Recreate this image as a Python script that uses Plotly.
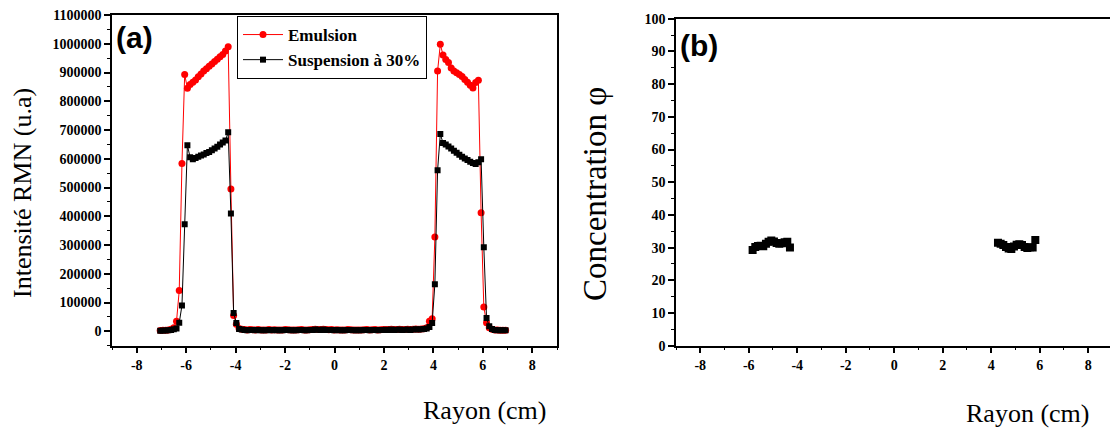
import plotly.graph_objects as go

# ---------------- data ----------------
rayon = [
    -7.05, -6.94, -6.83, -6.72, -6.61, -6.50, -6.39, -6.28, -6.17, -6.06,
    -5.95, -5.84, -5.73, -5.62, -5.51, -5.40, -5.29, -5.18, -5.07, -4.96,
    -4.85, -4.74, -4.63, -4.52, -4.41, -4.30, -4.19, -4.08, -3.97, -3.86,
    -3.75, -3.64, -3.53, -3.42, -3.31, -3.20, -3.09, -2.98, -2.87, -2.76,
    -2.65, -2.54, -2.43, -2.32, -2.21, -2.10, -1.99, -1.88, -1.77, -1.66,
    -1.55, -1.44, -1.33, -1.22, -1.11, -1.00, -0.89, -0.78, -0.67, -0.56,
    -0.45, -0.34, -0.23, -0.12, -0.01, 0.10, 0.21, 0.32, 0.43, 0.54,
    0.65, 0.76, 0.87, 0.98, 1.09, 1.20, 1.31, 1.42, 1.53, 1.64,
    1.75, 1.86, 1.97, 2.08, 2.19, 2.30, 2.41, 2.52, 2.63, 2.74,
    2.85, 2.96, 3.07, 3.18, 3.29, 3.40, 3.51, 3.62, 3.73, 3.84,
    3.95, 4.06, 4.17, 4.28, 4.39, 4.50, 4.61, 4.72, 4.83, 4.94,
    5.05, 5.16, 5.27, 5.38, 5.49, 5.60, 5.71, 5.82, 5.93, 6.04,
    6.15, 6.26, 6.37, 6.48, 6.59, 6.70, 6.81, 6.92,
]

emulsion = [
    3000, 3500, 4000, 5000, 7000, 12000, 35000, 142000, 584000, 893000,
    845000, 858000, 866000, 874000, 885000, 895000, 905000, 913000, 922000, 930000,
    938000, 946000, 955000, 963000, 975000, 990000, 495000, 55000, 25000, 10000,
    7000, 6000, 5000, 6000, 5500, 5000, 6000, 5000, 4500, 5000,
    6000, 5000, 5500, 4500, 5000, 5000, 6000, 5500, 5000, 4500,
    5000, 5500, 6000, 5000, 5000, 5500, 6000, 7000, 6500, 6000,
    7000, 6000, 5500, 6000, 5000, 5500, 5000, 4500, 5000, 6000,
    5500, 5000, 5000, 4500, 5000, 5500, 6000, 5000, 5500, 6000,
    5000, 5500, 6000, 6500, 6000, 7000, 6000, 6500, 7000, 6000,
    6500, 7000, 6000, 7000, 8000, 7000, 8000, 9000, 12000, 35000,
    44000, 328000, 905000, 998000, 961000, 945000, 935000, 916000, 905000, 899000,
    893000, 886000, 876000, 866000, 856000, 846000, 865000, 873000, 412000, 85000,
    30000, 12000, 7000, 5000, 5000, 4000, 4000, 4000,
]

suspension = [
    2000, 2500, 3000, 3500, 5000, 7000, 10000, 30000, 90000, 372000,
    647000, 605000, 598000, 603000, 607000, 611000, 615000, 620000, 624000, 630000,
    636000, 642000, 650000, 657000, 664000, 692000, 410000, 64000, 29000, 8000,
    6000, 5000, 4000, 5000, 4500, 4000, 5000, 4000, 3500, 4000,
    5000, 4000, 4500, 3500, 4000, 4000, 5000, 4500, 4000, 3500,
    4000, 4500, 5000, 4000, 4000, 4500, 5000, 6000, 5500, 5000,
    6000, 5000, 4500, 5000, 4000, 4500, 4000, 3500, 4000, 5000,
    4500, 4000, 4000, 3500, 4000, 4500, 5000, 4000, 4500, 5000,
    4000, 4500, 5000, 5500, 5000, 6000, 5000, 5500, 6000, 5000,
    5500, 6000, 5000, 6000, 7000, 6000, 7000, 8000, 10000, 15000,
    29000, 164000, 560000, 686000, 655000, 650000, 643000, 636000, 628000, 621000,
    614000, 607000, 601000, 596000, 590000, 585000, 582000, 588000, 598000, 292000,
    46000, 18000, 8000, 5000, 4000, 4000, 4000, 4000,
]

phi_left_x = [-5.84, -5.73, -5.62, -5.51, -5.40, -5.29, -5.18, -5.07,
              -4.96, -4.85, -4.74, -4.63, -4.52, -4.41, -4.30]
phi_left = [29.3, 30.2, 30.5, 30.6, 30.4, 31.2, 31.8, 32.2,
            31.9, 31.4, 31.2, 31.3, 31.6, 31.8, 30.0]
phi_right_x = [4.28, 4.39, 4.50, 4.61, 4.72, 4.83, 4.94, 5.05,
               5.16, 5.27, 5.38, 5.49, 5.60, 5.71, 5.82]
phi_right = [31.5, 31.2, 30.8, 30.2, 29.7, 29.6, 30.3, 30.9,
             31.0, 30.8, 30.2, 29.9, 30.1, 30.0, 32.3]

x_ticks = [-8, -6, -4, -2, 0, 2, 4, 6, 8]
x_ticktext = ["-8", "-6", "-4", "-2", "0", "2", "4", "6", "8"]
ya_ticks = [0, 100000, 200000, 300000, 400000, 500000, 600000,
            700000, 800000, 900000, 1000000, 1100000]
ya_ticktext = [str(v) for v in ya_ticks]
yb_ticks = [0, 10, 20, 30, 40, 50, 60, 70, 80, 90, 100]
yb_ticktext = [str(v) for v in yb_ticks]

# ---------------- figure ----------------
W, H = 1110, 428
fig = go.Figure()

fig.add_trace(go.Scatter(
    x=rayon, y=emulsion, mode="lines+markers", name="Emulsion",
    line=dict(color="#ff0000", width=1),
    marker=dict(symbol="circle", size=7, color="#ff0000"),
    xaxis="x", yaxis="y"))
fig.add_trace(go.Scatter(
    x=rayon, y=suspension, mode="lines+markers", name="Suspension à 30%",
    line=dict(color="black", width=1),
    marker=dict(symbol="square", size=6, color="black"),
    xaxis="x", yaxis="y"))
for xs, ys in [(phi_left_x, phi_left), (phi_right_x, phi_right)]:
    fig.add_trace(go.Scatter(
        x=xs, y=ys, mode="lines+markers", showlegend=False,
        line=dict(color="black", width=1),
        marker=dict(symbol="square", size=8, color="black"),
        xaxis="x2", yaxis="y2"))

tickfont = dict(family="Liberation Serif", size=14, color="black", weight="bold")
axis_common = dict(showline=True, linecolor="black", linewidth=1.5,
                   ticks="outside", ticklen=6, tickwidth=1.5, tickcolor="black",
                   showgrid=False, zeroline=False, tickfont=tickfont,
                   automargin=False)

def py(p):
    return 1 - p / H

fig.update_layout(
    template="none",
    width=W, height=H,
    margin=dict(l=0, r=0, t=0, b=0, pad=0, autoexpand=False),
    paper_bgcolor="white", plot_bgcolor="white",
    xaxis=dict(domain=[112 / W, 557 / W], range=[-9, 9], anchor="y",
               tickmode="array", tickvals=x_ticks, ticktext=x_ticktext,
               mirror=True,
               minor=dict(dtick=1, tick0=0, ticks="outside", ticklen=3,
                          tickwidth=1.2, tickcolor="black"),
               **axis_common),
    yaxis=dict(domain=[py(345.7), py(15)], range=[-50000, 1100000], anchor="x",
               tickmode="array", tickvals=ya_ticks, ticktext=ya_ticktext,
               mirror=True,
               minor=dict(dtick=50000, tick0=0, ticks="outside", ticklen=3,
                          tickwidth=1.2, tickcolor="black"),
               **axis_common),
    xaxis2=dict(domain=[676 / W, 1.0], range=[-9, 8.9], anchor="y2",
                tickmode="array", tickvals=x_ticks, ticktext=x_ticktext,
                mirror=True,
                minor=dict(dtick=1, tick0=0, ticks="outside", ticklen=3,
                           tickwidth=1.2, tickcolor="black"),
                **axis_common),
    yaxis2=dict(domain=[py(345.7), py(18.7)], range=[0, 100], anchor="x2",
                tickmode="array", tickvals=yb_ticks, ticktext=yb_ticktext,
                mirror=False,
                minor=dict(dtick=5, tick0=0, ticks="outside", ticklen=3,
                           tickwidth=1.2, tickcolor="black"),
                **axis_common),
    legend=dict(x=237 / W, y=py(16), xanchor="left", yanchor="top",
                bordercolor="black", borderwidth=1, bgcolor="white",
                font=dict(family="Liberation Serif", size=17, color="black",
                          weight="bold"),
                itemwidth=40, tracegroupgap=0),
    showlegend=True,
)

serif = "Liberation Serif"
annotations = [
    dict(text="Rayon (cm)", x=484 / W, y=py(410), font=dict(family=serif, size=26, color="black")),
    dict(text="Rayon (cm)", x=1027 / W, y=py(413), font=dict(family=serif, size=26, color="black")),
    dict(text="Intensité RMN (u.a)", x=22 / W, y=py(193), textangle=-90,
         font=dict(family=serif, size=26, color="black")),
    dict(text="Concentration φ", x=595 / W, y=py(194), textangle=-90,
         font=dict(family=serif, size=33, color="black")),
    dict(text="(a)", x=134 / W, y=py(38),
         font=dict(family="Liberation Sans", size=30, color="black", weight="bold")),
    dict(text="(b)", x=699 / W, y=py(45),
         font=dict(family="Liberation Sans", size=30, color="black", weight="bold")),
]
for a in annotations:
    a.update(xref="paper", yref="paper", showarrow=False, xanchor="center", yanchor="middle")
fig.update_layout(annotations=annotations)

fig.write_html(
    "out.html",
    config={"displayModeBar": False},
    post_script="document.body.style.margin='0px';document.body.style.padding='0px';",
)
